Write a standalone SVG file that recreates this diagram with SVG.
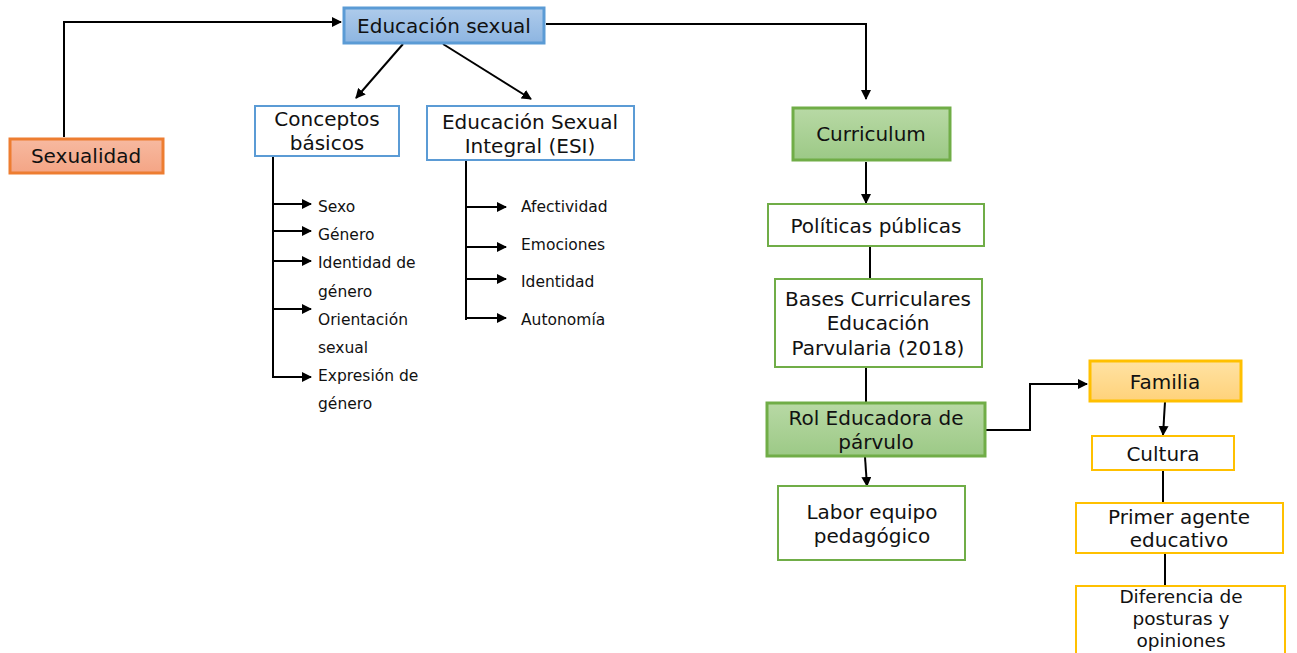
<svg xmlns="http://www.w3.org/2000/svg" width="1297" height="653" viewBox="0 0 1297 653">
<defs>
<style>
text{font-family:"DejaVu Sans","Verdana",sans-serif;fill:#111;}
.t{font-size:20px;text-anchor:middle;}
.d{font-size:18.5px;text-anchor:middle;}
.s{font-size:15.5px;}
.b{fill:#fff;stroke:#5b9bd5;stroke-width:2;}
.g{fill:#fff;stroke:#70ad47;stroke-width:2;}
.y{fill:#fff;stroke:#ffc000;stroke-width:2;}
.c{fill:none;stroke:#000;stroke-width:2;}
.ca{fill:none;stroke:#000;stroke-width:2;marker-end:url(#ah);}
</style>
<linearGradient id="gb" x1="0" y1="0" x2="0" y2="1"><stop offset="0" stop-color="#aecbeb"/><stop offset="1" stop-color="#8db5e1"/></linearGradient>
<linearGradient id="go" x1="0" y1="0" x2="0" y2="1"><stop offset="0" stop-color="#f7b9a0"/><stop offset="1" stop-color="#f4a585"/></linearGradient>
<linearGradient id="gg" x1="0" y1="0" x2="0" y2="1"><stop offset="0" stop-color="#b8d9a5"/><stop offset="1" stop-color="#9cc986"/></linearGradient>
<linearGradient id="gy" x1="0" y1="0" x2="0" y2="1"><stop offset="0" stop-color="#ffe2a3"/><stop offset="1" stop-color="#ffd27a"/></linearGradient>
<marker id="ah" viewBox="0 0 10 10" refX="9" refY="5" markerWidth="5" markerHeight="5" orient="auto" markerUnits="strokeWidth"><path d="M0,0 L10,5 L0,10 z" fill="#000"/></marker>
</defs>

<g id="connectors">
<polyline class="ca" points="64,137 64,22 341,22"/>
<line class="ca" x1="403" y1="44" x2="356" y2="98"/>
<line class="ca" x1="443" y1="44" x2="531" y2="99"/>
<polyline class="ca" points="546,24 866,24 866,99"/>
<line class="ca" x1="866" y1="162" x2="866" y2="203"/>
<line class="c" x1="870" y1="247" x2="870" y2="278"/>
<line class="c" x1="866" y1="368" x2="866" y2="402"/>
<line class="ca" x1="865" y1="457" x2="867" y2="486"/>
<polyline class="ca" points="986,430 1030,430 1030,384 1087,384"/>
<line class="ca" x1="1165" y1="402" x2="1163" y2="435"/>
<line class="c" x1="1163" y1="471" x2="1163" y2="503"/>
<line class="c" x1="1165" y1="554" x2="1165" y2="586"/>
<polyline class="c" points="273,156 273,377"/>
<line class="ca" x1="273" y1="204" x2="311" y2="204"/>
<line class="ca" x1="273" y1="231" x2="311" y2="231"/>
<line class="ca" x1="273" y1="261" x2="311" y2="261"/>
<line class="ca" x1="273" y1="309" x2="311" y2="309"/>
<line class="ca" x1="272" y1="377" x2="311" y2="377"/>
<polyline class="c" points="466,160 466,320"/>
<line class="ca" x1="466" y1="207" x2="506" y2="207"/>
<line class="ca" x1="466" y1="247" x2="506" y2="247"/>
<line class="ca" x1="466" y1="279" x2="506" y2="279"/>
<line class="ca" x1="466" y1="318" x2="506" y2="318"/>
</g>

<g id="educacion-sexual"><rect x="344" y="8" width="200" height="35" fill="url(#gb)" stroke="#5b9bd5" stroke-width="3"/><text class="t" x="444" y="33">Educación sexual</text></g>
<g id="sexualidad"><rect x="10" y="139" width="153" height="34" fill="url(#go)" stroke="#ed7d31" stroke-width="3"/><text class="t" x="86" y="163">Sexualidad</text></g>
<g id="conceptos"><rect class="b" x="255" y="106" width="144" height="50"/><text class="t" x="327" y="126">Conceptos</text><text class="t" x="327" y="150">básicos</text></g>
<g id="esi"><rect class="b" x="427" y="106" width="207" height="54"/><text class="t" x="530" y="129">Educación Sexual</text><text class="t" x="530" y="153">Integral (ESI)</text></g>
<g id="conceptos-items">
<text class="s" x="318" y="212">Sexo</text>
<text class="s" x="318" y="240">Género</text>
<text class="s" x="318" y="268">Identidad de</text>
<text class="s" x="318" y="297">género</text>
<text class="s" x="318" y="325">Orientación</text>
<text class="s" x="318" y="353">sexual</text>
<text class="s" x="318" y="381">Expresión de</text>
<text class="s" x="318" y="409">género</text>
</g>
<g id="esi-items">
<text class="s" x="521" y="212">Afectividad</text>
<text class="s" x="521" y="250">Emociones</text>
<text class="s" x="521" y="287">Identidad</text>
<text class="s" x="521" y="325">Autonomía</text>
</g>
<g id="curriculum"><rect x="793" y="108" width="157" height="52" fill="url(#gg)" stroke="#70ad47" stroke-width="3"/><text class="t" x="871" y="141">Curriculum</text></g>
<g id="politicas"><rect class="g" x="768" y="204" width="216" height="42"/><text class="t" x="876" y="233">Políticas públicas</text></g>
<g id="bases"><rect class="g" x="775" y="279" width="207" height="88"/><text class="t" x="878" y="306">Bases Curriculares</text><text class="t" x="878" y="330">Educación</text><text class="t" x="878" y="355">Parvularia (2018)</text></g>
<g id="rol"><rect x="767" y="403" width="218" height="53" fill="url(#gg)" stroke="#70ad47" stroke-width="3"/><text class="t" x="876" y="425">Rol Educadora de</text><text class="t" x="876" y="449">párvulo</text></g>
<g id="labor"><rect class="g" x="778" y="486" width="187" height="74"/><text class="t" x="872" y="519">Labor equipo</text><text class="t" x="872" y="543">pedagógico</text></g>
<g id="familia"><rect x="1090" y="361" width="151" height="40" fill="url(#gy)" stroke="#ffc000" stroke-width="3"/><text class="t" x="1165" y="389">Familia</text></g>
<g id="cultura"><rect class="y" x="1092" y="436" width="142" height="34"/><text class="t" x="1163" y="461">Cultura</text></g>
<g id="primer"><rect class="y" x="1076" y="503" width="207" height="50"/><text class="t" x="1179" y="524">Primer agente</text><text class="t" x="1179" y="547">educativo</text></g>
<g id="diferencia"><rect class="y" x="1076" y="586" width="209" height="80"/><text class="d" x="1181" y="603">Diferencia de</text><text class="d" x="1181" y="625">posturas y</text><text class="d" x="1181" y="647">opiniones</text></g>
</svg>
